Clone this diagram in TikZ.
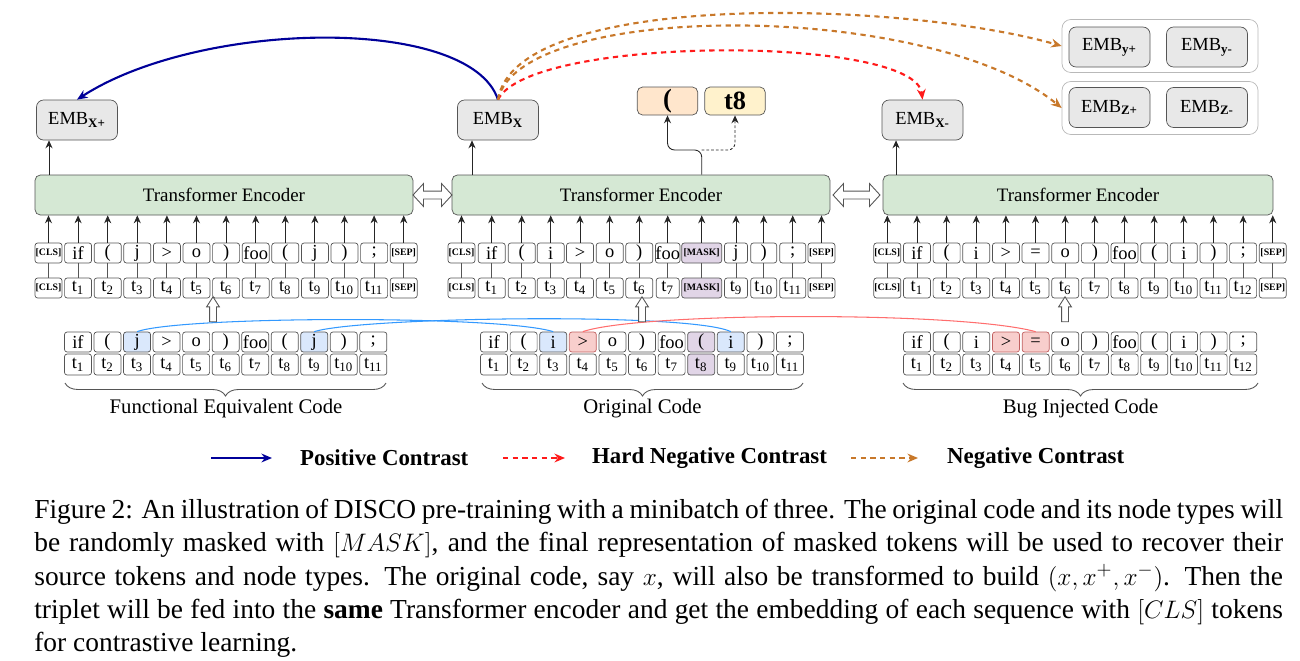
\documentclass[tikz,border=0pt]{standalone}
\usepackage{fontspec}
\setmainfont{Liberation Serif}
\usetikzlibrary{shapes.arrows,decorations.pathreplacing,arrows.meta,calc}

\definecolor{boxline}{HTML}{555555}
\definecolor{embGray}{HTML}{E8E8E8}
\definecolor{encGreen}{HTML}{D5E8D4}
\definecolor{hlBlue}{HTML}{DAE8FC}
\definecolor{hlRed}{HTML}{F8CECC}
\definecolor{hlRedLine}{HTML}{C06060}
\definecolor{hlPurple}{HTML}{E1D5E7}
\definecolor{outPeach}{HTML}{FFE6CC}
\definecolor{outYellow}{HTML}{FFF2CC}
\definecolor{posBlue}{HTML}{000099}
\definecolor{hardRed}{HTML}{FF1A1A}
\definecolor{negOrange}{HTML}{C8782A}
\definecolor{linkBlue}{HTML}{3399FF}
\definecolor{linkRed}{HTML}{FF6E6E}

\newcommand{\clstok}{{\fontsize{5.6}{6}\selectfont\bfseries [CLS]}}
\newcommand{\septok}{{\fontsize{5.6}{6}\selectfont\bfseries [SEP]}}
\newcommand{\masktok}{{\fontsize{5.6}{6}\selectfont\bfseries [MASK]}}

\tikzset{
  tok/.style={draw=boxline, fill=white, rounded corners=1.5pt, minimum width=0.54cm,
    minimum height=0.4cm, inner sep=0pt, font=\fontsize{10.5}{12}\selectfont},
  plain/.style={},
  hlb/.style={fill=hlBlue},
  hlr/.style={fill=hlRed, draw=hlRedLine},
  hlp/.style={fill=hlPurple},
  enc/.style={draw=boxline, fill=encGreen, rounded corners=3pt, minimum height=0.8cm,
    inner sep=0pt, font=\fontsize{10.8}{12}\selectfont},
  emb/.style={draw=boxline, fill=embGray, rounded corners=4pt, minimum width=1.62cm,
    minimum height=0.8cm, inner sep=0pt, font=\fontsize{10.5}{12}\selectfont},
  grp/.style={draw=gray!55, fill=white, rounded corners=5pt, minimum width=3.92cm,
    minimum height=1.06cm, inner sep=0pt},
  outbox/.style={draw=boxline, rounded corners=3pt, minimum width=1.21cm, minimum height=0.56cm,
    inner sep=0pt, font=\fontsize{15}{16}\selectfont\bfseries},
  feed/.style={draw=black!85, line width=0.5pt, -{Stealth[length=4.5pt,width=4pt]}},
  tie/.style={draw=boxline, line width=0.5pt},
  hollowtwo/.style={double arrow, draw=boxline, fill=white, inner sep=0.07cm,
    double arrow head extend=0.15cm, double arrow tip angle=95, line width=0.5pt},
  hollowone/.style={single arrow, draw=boxline, fill=white, inner sep=0.06cm,
    single arrow head extend=0.06cm, single arrow tip angle=65, shape border rotate=90,
    minimum height=0.5cm, line width=0.5pt},
  poscurve/.style={draw=posBlue, line width=1.2pt, -{Stealth[length=6pt,width=5pt]}},
  hardcurve/.style={draw=hardRed, line width=1.2pt, dash pattern=on 3pt off 2.5pt,
    -{Stealth[length=6pt,width=5pt]}},
  negcurve/.style={draw=negOrange, line width=1.2pt, dash pattern=on 3pt off 2.5pt,
    -{Stealth[length=6pt,width=5pt]}},
  bluelink/.style={draw=linkBlue, line width=0.6pt},
  redlink/.style={draw=linkRed, line width=0.6pt},
  codebrace/.style={draw=boxline, line width=0.5pt, decorate,
    decoration={brace, mirror, amplitude=0.26cm}},
  bracelabel/.style={font=\fontsize{11.8}{13}\selectfont},
  legend/.style={anchor=west, font=\fontsize{13}{14}\selectfont\bfseries}
}

\begin{document}
\begin{tikzpicture}[x=0.02cm, y=-0.02cm]
    \useasboundingbox (0,0) rectangle (1300,660);

    % Encoders
    \node[enc, minimum width=7.56cm] (encP) at (224,195) {Transformer Encoder};
    \node[enc, minimum width=7.56cm] (encO) at (641,195) {Transformer Encoder};
    \node[enc, minimum width=7.8cm] (encB) at (1078,195) {Transformer Encoder};
    \node[hollowtwo, minimum height=0.78cm] (dblPO) at ($(encP.east)!0.5!(encO.west)$) {};
    \node[hollowtwo, minimum height=0.94cm] (dblOB) at ($(encO.east)!0.5!(encB.west)$) {};

    % Embeddings
    \node[emb] (embXp) at (77,120) {EMB\textsubscript{\textbf{X+}}};
    \node[emb] (embX) at (498,120) {EMB\textsubscript{\textbf{X}}};
    \node[emb] (embXm) at (922.5,120) {EMB\textsubscript{\textbf{X-}}};
    \node[grp] (grpY) at (1160,46) {};
    \node[grp] (grpZ) at (1160,108) {};
    \node[emb] (embYp) at (1109.5,47) {EMB\textsubscript{\textbf{y+}}};
    \node[emb] (embYm) at (1207,47) {EMB\textsubscript{\textbf{y-}}};
    \node[emb] (embZp) at (1109.5,107.5) {EMB\textsubscript{\textbf{Z+}}};
    \node[emb] (embZm) at (1207,107.5) {EMB\textsubscript{\textbf{Z-}}};

    \coordinate (pOut) at (49,175);
    \coordinate (oOut) at (472,175);
    \coordinate (bOut) at (896,175);
    \draw[feed] (pOut) -- (pOut |- embXp.south);
    \draw[feed] (oOut) -- (oOut |- embX.south);
    \draw[feed] (bOut) -- (bOut |- embXm.south);

    % Recovered token and node type
    \node[outbox, fill=outPeach] (recTok) at (667.5,101) {(};
    \node[outbox, fill=outYellow] (recType) at (735,101) {t8};

    % Positive sample inputs
    \foreach \lbl [count=\i from 0] in {\clstok, if, {(}, j, >, o, {)}, foo, {(}, j, {)}, ;, \septok}
        \node[tok] (pTok\i) at ({48.5+29.6*\i},253) {\lbl};
    \node[tok] (pTyp0) at (48.5,288) {\clstok};
    \foreach \i in {1,...,11}
        \node[tok] (pTyp\i) at ({48.5+29.6*\i},288) {t\textsubscript{\i}};
    \node[tok] (pTyp12) at ({48.5+29.6*12},288) {\septok};
    \foreach \i in {0,...,12} {
        \draw[tie] (pTyp\i) -- (pTok\i);
        \draw[feed] (pTok\i) -- (pTok\i |- encP.south);
    }

    % Original (masked) inputs
    \foreach \x/\w/\lbl/\sty [count=\i from 0] in {461.5/27/\clstok/plain, 491.7/27/if/plain,
        521.7/27/{(}/plain, 550.7/27/i/plain, 580/27/>/plain, 609.7/27/o/plain, 639.3/27/{)}/plain,
        667.7/23/foo/plain, 701.7/40/\masktok/hlp, 736/23/j/plain, 763.7/26/{)}/plain,
        792.7/26/;/plain, 821.5/27/\septok/plain}
        \node[tok, \sty, minimum width=\w*0.02cm] (oTok\i) at (\x,253) {\lbl};
    \foreach \x/\w/\lbl/\sty [count=\i from 0] in {461.5/27/\clstok/plain, 491.7/27/t\textsubscript{1}/plain,
        521.7/27/t\textsubscript{2}/plain, 550.7/27/t\textsubscript{3}/plain, 580/27/t\textsubscript{4}/plain,
        609.7/27/t\textsubscript{5}/plain, 639.3/27/t\textsubscript{6}/plain, 667.7/23/t\textsubscript{7}/plain,
        701.7/40/\masktok/hlp, 736/23/t\textsubscript{9}/plain, 763.7/26/t\textsubscript{10}/plain,
        792.7/26/t\textsubscript{11}/plain, 821.5/27/\septok/plain}
        \node[tok, \sty, minimum width=\w*0.02cm] (oTyp\i) at (\x,288) {\lbl};
    \foreach \i in {0,...,12} {
        \draw[tie] (oTyp\i) -- (oTok\i);
        \draw[feed] (oTok\i) -- (oTok\i |- encO.south);
    }

    % Negative sample inputs
    \foreach \lbl [count=\i from 0] in {\clstok, if, {(}, i, >, =, o, {)}, foo, {(}, i, {)}, ;, \septok}
        \node[tok] (bTok\i) at ({887.3+29.65*\i},253) {\lbl};
    \node[tok] (bTyp0) at (887.3,288) {\clstok};
    \foreach \i in {1,...,12}
        \node[tok] (bTyp\i) at ({887.3+29.65*\i},288) {t\textsubscript{\i}};
    \node[tok] (bTyp13) at ({887.3+29.65*13},288) {\septok};
    \foreach \i in {0,...,13} {
        \draw[tie] (bTyp\i) -- (bTok\i);
        \draw[feed] (bTok\i) -- (bTok\i |- encB.south);
    }

    % Masked prediction heads
    \coordinate (split) at (701.7,150);
    \draw[feed, rounded corners=4pt] (oTok8 |- encO.north) -- (split) -| (recTok.south);
    \draw[feed, dash pattern=on 1.5pt off 1.2pt, rounded corners=4pt] (split) -| (recType.south);

    % Source code rows
    \foreach \lbl/\sty [count=\i] in {if/plain, {(}/plain, j/hlb, >/plain, o/plain, {)}/plain,
        foo/plain, {(}/plain, j/hlb, {)}/plain, ;/plain}
        \node[tok, \sty] (fCode\i) at ({78+29.53*(\i-1)},342) {\lbl};
    \foreach \i in {1,...,11}
        \node[tok, minimum height=0.42cm] (fType\i) at ({78+29.53*(\i-1)},364.5) {t\textsubscript{\i}};

    \foreach \lbl/\sty [count=\i] in {if/plain, {(}/plain, i/hlb, >/hlr, o/plain, {)}/plain,
        foo/plain, {(}/hlp, i/hlb, {)}/plain, ;/plain}
        \node[tok, \sty] (oCode\i) at ({494+29.6*(\i-1)},342) {\lbl};
    \foreach \sty [count=\i] in {plain, plain, plain, plain, plain, plain, plain, hlp, plain, plain, plain}
        \node[tok, \sty, minimum height=0.42cm] (oType\i) at ({494+29.6*(\i-1)},364.5) {t\textsubscript{\i}};

    \foreach \lbl/\sty [count=\i] in {if/plain, {(}/plain, i/plain, >/hlr, =/hlr, o/plain, {)}/plain,
        foo/plain, {(}/plain, i/plain, {)}/plain, ;/plain}
        \node[tok, \sty] (bCode\i) at ({917+29.66*(\i-1)},342) {\lbl};
    \foreach \i in {1,...,12}
        \node[tok, minimum height=0.42cm] (bType\i) at ({917+29.66*(\i-1)},364.5) {t\textsubscript{\i}};

    % Token alignment links
    \draw[bluelink] (fCode3.north) .. controls (180,316) and (500,315) .. (oCode3.north);
    \draw[bluelink] (fCode9.north) .. controls (360,317) and (690,312) .. (oCode9.north);
    \draw[redlink] (oCode4.north) .. controls (640,312) and (960,311) .. (bCode5.north);

    \node[hollowone] (upP) at (213,312) {};
    \node[hollowone] (upO) at (642,312) {};
    \node[hollowone] (upB) at (1065,312) {};

    % Braces
    \draw[codebrace] (65,383) -- (386,383);
    \draw[codebrace] (482,383) -- (803,383);
    \draw[codebrace] (903,383) -- (1258,383);
    \node[bracelabel] (lblP) at (226,409) {Functional Equivalent Code};
    \node[bracelabel] (lblO) at (642.5,409) {Original Code};
    \node[bracelabel] (lblB) at (1080.5,409) {Bug Injected Code};

    % Contrast arrows
    \draw[poscurve] (embX.north) .. controls (470,15) and (200,20) .. (embXp.north);
    \draw[hardcurve] (embX.north) .. controls (530,35) and (915,35) .. (embXm.north);
    \draw[negcurve] (embX.north) .. controls (515,-10) and (900,0) .. (grpY.west);
    \draw[negcurve] (embX.north) .. controls (520,0) and (930,0) .. (grpZ.west);

    % Legend
    \coordinate (lgPosA) at (211,458);
    \coordinate (lgPosB) at (272,458);
    \coordinate (lgHardA) at (503,458);
    \coordinate (lgHardB) at (565,458);
    \coordinate (lgNegA) at (851,458);
    \coordinate (lgNegB) at (918,458);
    \draw[poscurve] (lgPosA) -- (lgPosB);
    \draw[hardcurve] (lgHardA) -- (lgHardB);
    \draw[negcurve] (lgNegA) -- (lgNegB);
    \node[legend] (lgPos) at (294,458) {Positive Contrast};
    \node[legend] (lgHard) at (586,458) {Hard Negative Contrast};
    \node[legend] (lgNeg) at (941,458) {Negative Contrast};

    % Caption
    \node[anchor=north west, text width=24.98cm, align=justify, inner sep=0pt,
        font=\fontsize{15.62}{18.9}\selectfont] (caption) at (34,499)
        {Figure 2: An illustration of DISCO pre-training with a minibatch of three. The original code and its node types will\linebreak
        be randomly masked with $[MASK]$, and the final representation of masked tokens will be used to recover their\linebreak
        source tokens and node types. The original code, say $x$, will also be transformed to build $(x,x^+,x^-)$. Then the\linebreak
        triplet will be fed into the \textbf{same} Transformer encoder and get the embedding of each sequence with $[CLS]$ tokens\linebreak
        for contrastive learning.};
\end{tikzpicture}
\end{document}
